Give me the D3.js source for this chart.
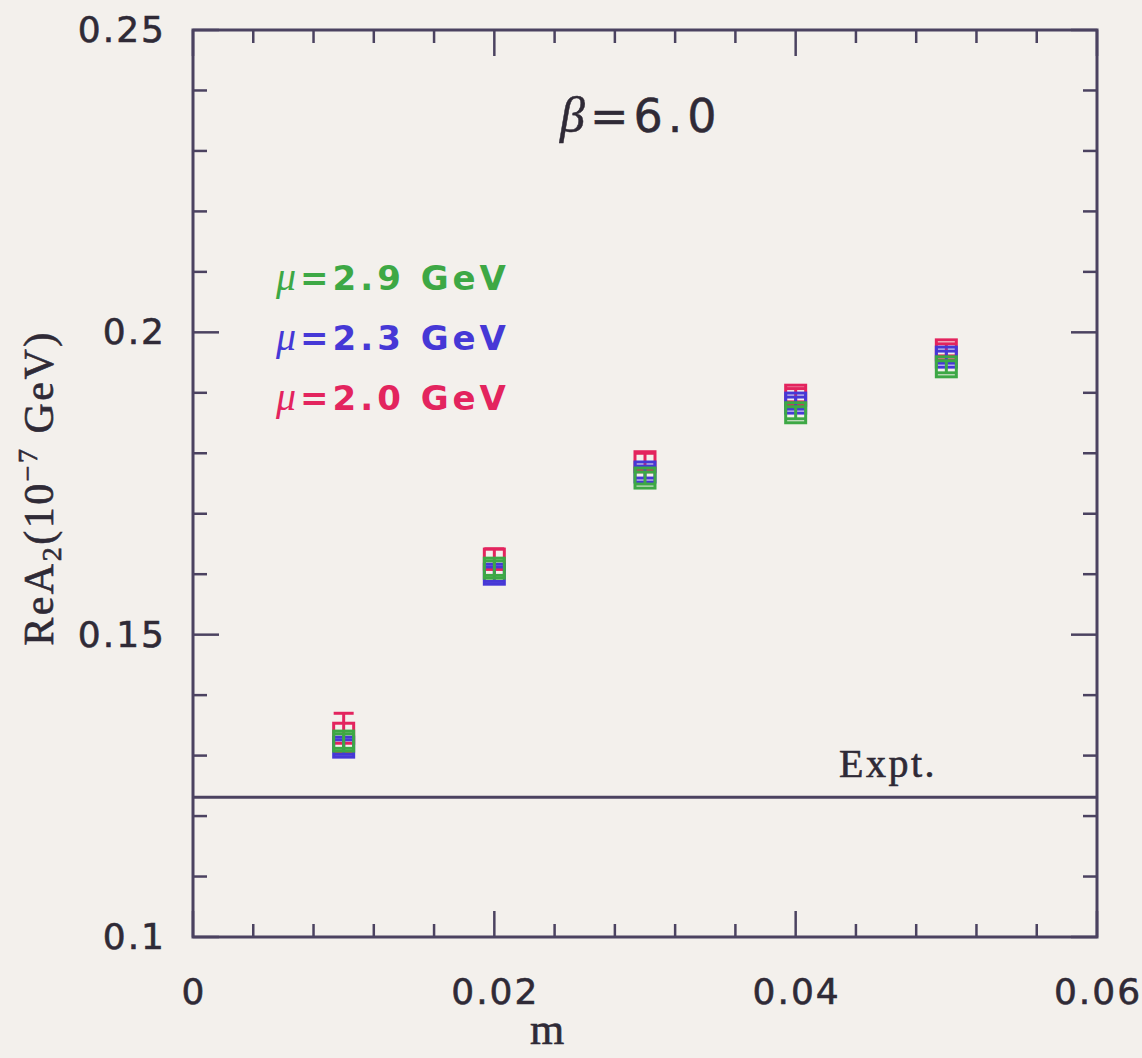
<!DOCTYPE html>
<html>
<head>
<meta charset="utf-8">
<script src="https://cdn.jsdelivr.net/npm/d3@7"></script>
<style>
  html, body { margin: 0; padding: 0; background: #f3f0ec; }
  svg { display: block; }
</style>
</head>
<body>
<svg id="chart" width="1142" height="1058"></svg>
<script>
// Quark mass values (lattice units)
const masses = [0.01, 0.02, 0.03, 0.04, 0.05];

// ReA2 in units of 1e-7 GeV, one series per renormalization scale
const reA2_mu20 = [0.1337, 0.1625, 0.1786, 0.1896, 0.1971];
const err_mu20  = [0.0033, 0.0017, 0.0014, 0.0011, 0.0010];
const reA2_mu23 = [0.1314, 0.1600, 0.1769, 0.1883, 0.1959];
const err_mu23  = [0.0012, 0.0012, 0.0010, 0.0010, 0.0010];
const reA2_mu29 = [0.1324, 0.1610, 0.1759, 0.1867, 0.1943];
const err_mu29  = [0.0012, 0.0012, 0.0010, 0.0010, 0.0010];

const seriesLabels = ["2.9", "2.3", "2.0"];
const seriesColors = ["#3da845", "#4638d6", "#e3245e"];

// Experimental value of ReA2
const exptValue = 0.1231;

const xTickLabels = ["0", "0.02", "0.04", "0.06"];
const yTickLabels = ["0.1", "0.15", "0.2", "0.25"];

const svg = d3.select("#chart");
const frame = "#4b4260";
const ink = "#2f2a36";

const x = d3.scaleLinear().domain([0, 0.06]).range([193, 1097]);
const y = d3.scaleLinear().domain([0.1, 0.25]).range([937, 30]);

// plot frame
svg.append("rect")
  .attr("x", x(0)).attr("y", y(0.25))
  .attr("width", x(0.06) - x(0)).attr("height", y(0.1) - y(0.25))
  .attr("fill", "none").attr("stroke", frame).attr("stroke-width", 3);

// ticks on all four sides
const xMinor = d3.range(0, 0.0601, 0.004);
const xMajor = [0, 0.02, 0.04, 0.06];
const yMinor = d3.range(0.1, 0.2501, 0.01);
const yMajor = [0.1, 0.15, 0.2, 0.25];
const isMajor = (v, arr) => arr.some(a => Math.abs(a - v) < 1e-9);

const tickG = svg.append("g").attr("stroke", frame).attr("stroke-width", 2.5);
xMinor.forEach(v => {
  const len = isMajor(v, xMajor) ? 26 : 13;
  tickG.append("line").attr("x1", x(v)).attr("x2", x(v)).attr("y1", y(0.1)).attr("y2", y(0.1) - len);
  tickG.append("line").attr("x1", x(v)).attr("x2", x(v)).attr("y1", y(0.25)).attr("y2", y(0.25) + len);
});
yMinor.forEach(v => {
  const len = isMajor(v, yMajor) ? 26 : 14;
  tickG.append("line").attr("x1", x(0)).attr("x2", x(0) + len).attr("y1", y(v)).attr("y2", y(v));
  tickG.append("line").attr("x1", x(0.06)).attr("x2", x(0.06) - len).attr("y1", y(v)).attr("y2", y(v));
});

// tick labels
const labelFont = "'DejaVu Sans', sans-serif";
const serif = "'Liberation Serif', serif";
function numText(sel) {
  return sel.attr("font-family", labelFont).attr("font-size", 36)
    .attr("letter-spacing", 2).attr("fill", ink)
    .attr("stroke", ink).attr("stroke-width", 0.6);
}
xMajor.forEach((v, i) => {
  numText(svg.append("text").attr("x", x(v) + 1).attr("y", 1004)
    .attr("text-anchor", "middle").text(xTickLabels[i]));
});
yMajor.forEach((v, i) => {
  numText(svg.append("text").attr("x", 166).attr("y", y(v) + 12)
    .attr("text-anchor", "end").text(yTickLabels[i]));
});

// axis titles
svg.append("text").attr("x", 547).attr("y", 1044)
  .attr("text-anchor", "middle").attr("font-family", serif)
  .attr("font-size", 44).attr("fill", ink).attr("stroke", ink).attr("stroke-width", 0.6).text("m");

const yTitle = svg.append("text")
  .attr("transform", "translate(53,488) rotate(-90)")
  .attr("text-anchor", "middle").attr("font-family", serif)
  .attr("font-size", 42).attr("letter-spacing", 2.5)
  .attr("fill", ink).attr("stroke", ink).attr("stroke-width", 0.6);
yTitle.append("tspan").text("ReA");
yTitle.append("tspan").attr("font-size", 28).attr("dy", 8).text("2");
yTitle.append("tspan").attr("dy", -8).text("(10");
yTitle.append("tspan").attr("font-size", 28).attr("dy", -16).text("−7");
yTitle.append("tspan").attr("dy", 16).text(" GeV)");

// beta annotation
const beta = svg.append("text").attr("x", 560).attr("y", 132)
  .attr("font-family", labelFont).attr("font-size", 46).attr("letter-spacing", 5)
  .attr("fill", ink).attr("stroke", ink).attr("stroke-width", 0.5);
beta.append("tspan").attr("font-family", serif).attr("font-style", "italic").attr("font-size", 50).text("β");
beta.append("tspan").text("=6.0");

// experimental line
svg.append("line")
  .attr("x1", x(0)).attr("x2", x(0.06)).attr("y1", y(exptValue)).attr("y2", y(exptValue))
  .attr("stroke", frame).attr("stroke-width", 3);
svg.append("text").attr("x", 839).attr("y", 777)
  .attr("font-family", serif).attr("font-size", 40).attr("letter-spacing", 2.5)
  .attr("fill", ink).attr("stroke", ink).attr("stroke-width", 0.6).text("Expt.");

// legend
const legendY = [290, 350, 410];
seriesLabels.forEach((lab, i) => {
  const t = svg.append("text").attr("x", 276).attr("y", legendY[i])
    .attr("font-family", labelFont).attr("font-weight", "bold").attr("font-size", 34)
    .attr("letter-spacing", 4).attr("fill", seriesColors[i]);
  t.append("tspan").attr("font-family", serif).attr("font-style", "italic")
    .attr("font-weight", "normal").attr("font-size", 40).text("μ");
  t.append("tspan").text("=" + lab + " GeV");
});

// data points with error bars: drawn mu=2.0, then 2.3, then 2.9 on top
const series = [
  { vals: reA2_mu20, errs: err_mu20, color: seriesColors[2] },
  { vals: reA2_mu23, errs: err_mu23, color: seriesColors[1] },
  { vals: reA2_mu29, errs: err_mu29, color: seriesColors[0] }
];
const half = 10, cap = 10;
series.forEach(s => {
  const g = svg.append("g").attr("stroke", s.color).attr("stroke-width", 3).attr("fill", "none");
  masses.forEach((m, i) => {
    const cx = x(m), cy = y(s.vals[i]);
    const top = y(s.vals[i] + s.errs[i]), bot = y(s.vals[i] - s.errs[i]);
    g.append("line").attr("x1", cx).attr("x2", cx).attr("y1", top).attr("y2", bot);
    g.append("line").attr("x1", cx - cap).attr("x2", cx + cap).attr("y1", top).attr("y2", top);
    g.append("line").attr("x1", cx - cap).attr("x2", cx + cap).attr("y1", bot).attr("y2", bot);
    g.append("rect").attr("x", cx - half).attr("y", cy - half)
      .attr("width", 2 * half).attr("height", 2 * half);
  });
});
</script>
</body>
</html>
